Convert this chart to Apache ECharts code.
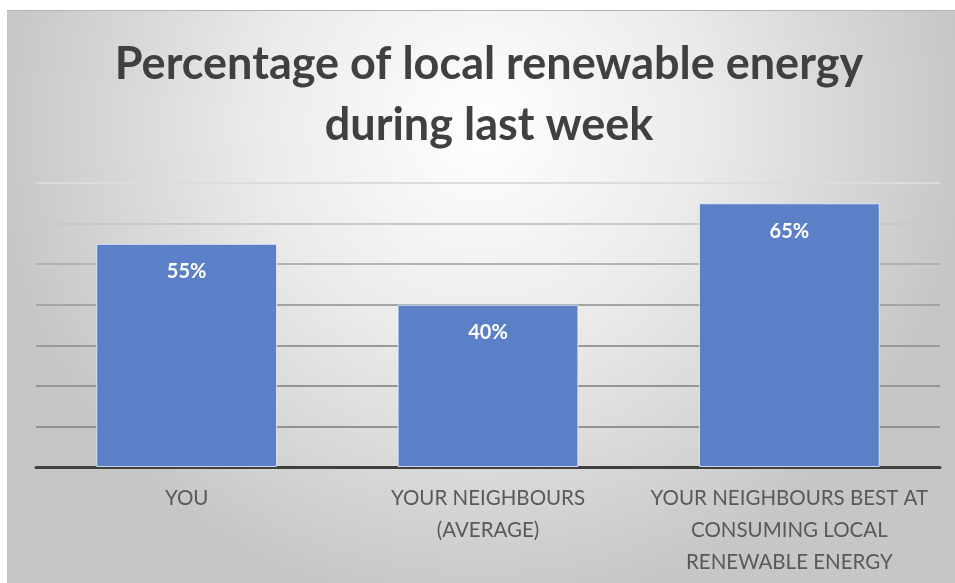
<!DOCTYPE html>
<html><head><meta charset="utf-8">
<script src="https://cdn.jsdelivr.net/npm/echarts@6/dist/echarts.min.js"></script>
<style>
html,body{margin:0;padding:0;background:#fff;width:955px;height:583px;overflow:hidden}
#c{position:absolute;left:7px;top:10px;width:948px;height:573px;border-top:1px solid #b4b4b4;box-sizing:border-box}
</style></head><body>
<div id="c"></div>
<script>
const titleText = 'Percentage of local renewable energy\nduring last week';
const categories = ['YOU', 'YOUR NEIGHBOURS\n(AVERAGE)', 'YOUR NEIGHBOURS BEST AT\nCONSUMING LOCAL\nRENEWABLE ENERGY'];
const values = [55, 40, 65];
const yMin = 0, yMax = 70, yStep = 10;

const chart = echarts.init(document.getElementById('c'), null, {renderer:'canvas'});
chart.setOption({
  backgroundColor: {
    type: 'radial', x: 0.5, y: 0.2, r: 0.85,
    colorStops: [{offset:0, color:'#ffffff'}, {offset:0.45, color:'#ebebeb'}, {offset:1, color:'#c6c6c6'}]
  },
  animation: false,
  title: {
    text: titleText, left: 477, textAlign: 'center', top: 18,
    textStyle: {fontFamily:'Lato', fontWeight:'bold', fontSize:45, color:'#404040', lineHeight:61}
  },
  grid: {left: 29, right: 15, top: 172, bottom: 116},
  xAxis: {
    type: 'category', data: categories,
    axisLine: {lineStyle:{color:'#404040', width:3}},
    axisTick: {show:false},
    axisLabel: {fontFamily:'Lato', fontSize:20.5, color:'#595959', lineHeight:32, margin:15, interval:0}
  },
  yAxis: {
    type: 'value', min: yMin, max: yMax, interval: yStep,
    axisLabel: {show:false}, axisLine: {show:false}, axisTick: {show:false},
    splitLine: {lineStyle:{width:2, color:['#9a9a9a','#929292','#959595','#9a9a9a','#a4a4a4','#b3b3b3','#c8c8c8','#dcdcdc']}}
  },
  series: [{
    type: 'bar', data: values, barWidth: '60%',
    itemStyle: {color:'#5b80c7', borderColor:'rgba(235,242,255,0.8)', borderWidth:1},
    label: {show:true, position:'insideTop', distance:18, formatter: p => p.value + '%',
      fontFamily:'Lato', fontWeight:'bold', fontSize:20, color:'#ffffff'}
  }]
});
</script>
</body></html>
